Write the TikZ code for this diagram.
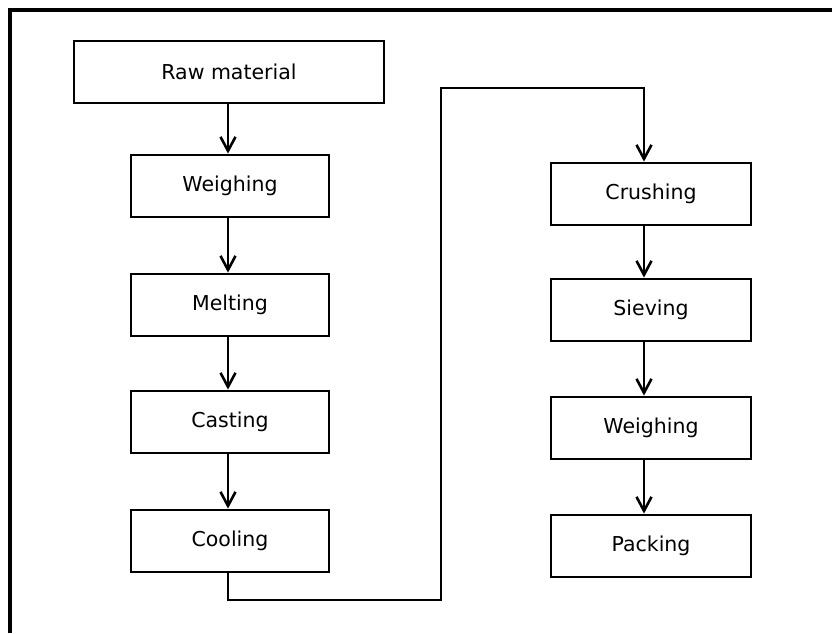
\documentclass[tikz,border=0pt]{standalone}
\usepackage{fontspec}
\setmainfont{DejaVu Sans}
\usetikzlibrary{arrows.meta}
\begin{document}
\begin{tikzpicture}[x=1pt,y=-1pt,
  box/.style={draw=black,line width=2.8pt,rectangle,minimum height=62pt,inner sep=0pt,font=\fontsize{20.5}{24}\selectfont,text=black},
  arr/.style={draw=black,line width=2.6pt,-{Straight Barb[length=14pt,width=15pt,line width=2.6pt]}},
  conn/.style={draw=black,line width=2.6pt,line join=miter},
  frameline/.style={draw=black,line width=3.2pt}]
\useasboundingbox (0,0) rectangle (832,633);
\draw[frameline] (10,633) -- (10,10) -- (832,10);
% left column
\node[box,minimum width=310pt] (raw) at (229,72) {Raw material};
\node[box,minimum width=198pt] (wei1) at (230,186) {Weighing};
\node[box,minimum width=198pt] (melt) at (230,305) {Melting};
\node[box,minimum width=198pt] (cast) at (230,422) {Casting};
\node[box,minimum width=198pt] (cool) at (230,541) {Cooling};
% right column
\node[box,minimum width=200pt] (crush) at (651,194) {Crushing};
\node[box,minimum width=200pt] (siev) at (651,310) {Sieving};
\node[box,minimum width=200pt] (wei2) at (651,428) {Weighing};
\node[box,minimum width=200pt] (pack) at (651,546) {Packing};
\coordinate (cl) at (228,0);
\coordinate (cr) at (644,0);
\coordinate (b1) at (228,600);
\coordinate (b2) at (441,600);
\coordinate (t1) at (441,88);
\coordinate (t2) at (644,88);
\draw[arr] (raw.south -| cl) -- (wei1.north -| cl);
\draw[arr] (wei1.south -| cl) -- (melt.north -| cl);
\draw[arr] (melt.south -| cl) -- (cast.north -| cl);
\draw[arr] (cast.south -| cl) -- (cool.north -| cl);
\draw[arr] (cool.south -| cl) -- (b1) -- (b2) -- (t1) -- (t2) -- (crush.north -| cr);
\draw[arr] (crush.south -| cr) -- (siev.north -| cr);
\draw[arr] (siev.south -| cr) -- (wei2.north -| cr);
\draw[arr] (wei2.south -| cr) -- (pack.north -| cr);
\end{tikzpicture}
\end{document}
